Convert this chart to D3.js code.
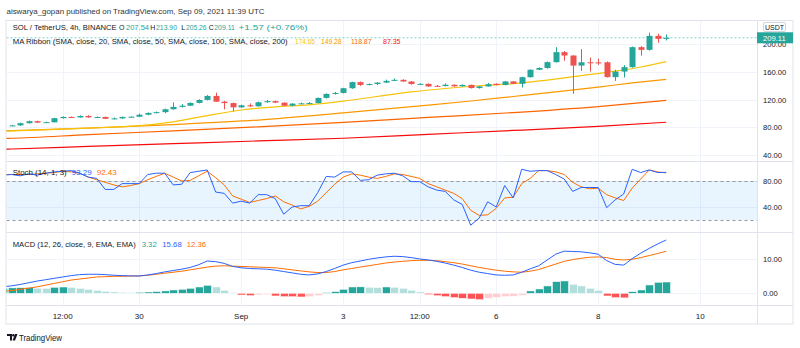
<!DOCTYPE html>
<html><head><meta charset="utf-8">
<script src="https://cdn.jsdelivr.net/npm/d3@7"></script>
<style>body{margin:0;background:#fff}svg{display:block}text{font-family:"Liberation Sans",Arial,sans-serif}</style>
</head><body><svg id="c" width="800" height="348"></svg>
<script>
// ---------- DATA ----------
const firstCandleTime = "2021-08-27T12:00:00Z"; // 4h candles
const candleHours = 4;
const opens = [82.5,82.8,86.0,88.9,86.8,87.3,93.2,95.0,94.3,96.4,94.4,95.0,92.3,92.9,95.0,95.3,98.2,100.8,101.9,106.1,109.5,111.2,115.2,119.5,125.3,117.0,115.0,108.8,111.8,110.3,116.2,117.8,115.6,111.2,114.2,114.6,115.0,122.4,128.2,129.6,136.4,145.2,141.1,142.4,144.5,147.0,148.5,146.1,142.4,142.7,139.8,139.5,141.4,139.2,141.2,136.6,139.0,142.8,141.1,146.2,142.8,152.3,163.0,165.6,174.0,188.4,183.5,169.0,173.8,173.6,173.8,152.4,160.4,166.8,195.6,191.7,211.9,207.54];
const highs = [83.5,86.8,89.8,89.6,88.3,93.8,95.8,95.6,97.2,97.4,95.8,95.4,94.2,95.6,96.1,99.8,101.6,102.8,107.0,116.0,113.5,116.0,120.5,126.5,130.0,118.2,115.8,112.6,114.5,117.0,119.6,118.6,116.0,114.8,115.8,116.6,123.0,129.0,131.0,137.0,145.8,146.0,143.3,145.2,148.8,150.5,149.2,146.8,143.6,143.2,141.0,143.3,141.8,141.8,141.5,139.6,144.0,143.4,146.8,146.6,153.0,163.6,166.5,175.0,195.6,190.0,184.0,192.7,180.6,179.0,175.0,163.0,169.8,196.5,197.0,216.5,215.0,213.90];
const lows = [81.8,82.0,85.5,86.3,86.2,87.0,92.6,93.8,94.0,93.9,94.0,91.9,91.6,92.4,94.6,94.8,97.5,100.2,100.3,105.5,108.5,110.5,114.5,118.8,116.5,106.0,103.0,108.2,109.2,109.8,115.5,115.0,110.6,110.2,113.5,114.0,114.6,121.5,127.2,128.8,135.5,139.8,140.6,140.8,143.8,146.6,145.5,141.5,141.8,138.2,138.6,139.0,138.6,138.8,136.0,135.8,138.8,140.5,140.5,142.2,137.4,151.8,162.5,164.5,173.4,176.0,128.3,161.4,160.4,170.0,151.8,147.0,151.8,166.0,183.5,190.5,202.0,205.26];
const closes = [82.8,86.0,88.9,86.8,87.5,93.2,95.0,94.3,96.4,94.4,94.9,92.3,92.9,95.0,95.3,98.2,100.8,101.9,106.1,109.5,111.2,115.2,119.5,125.3,117.0,115.0,108.8,111.8,110.3,116.2,117.8,115.6,111.2,114.2,114.6,115.0,122.4,128.2,129.6,136.4,145.2,141.1,142.4,144.5,147.0,148.5,146.1,142.4,142.7,139.0,139.5,141.4,139.2,141.2,136.6,139.0,142.2,141.1,146.2,142.8,152.3,163.0,165.6,174.0,188.4,183.5,169.0,173.8,173.4,173.3,152.4,160.4,166.8,195.6,191.7,211.9,207.54,209.11];

// MA ribbon: knots (candle index, value); index 0 = bar before first visible
const ma20Idx = [0,1,6,10,16,20,24,28,32,36,40,44,48,52,56,60,64,68,72,75,78];
const ma20Val = [74.5,74.8,77,79,82.5,88,97,105,109.5,112.5,117.8,124.5,131,136,140,143,148,154.5,161,167,174.65];
const ma50Idx = [0,1,10,20,30,40,50,55,60,65,70,74,78];
const ma50Val = [75,75.3,79,84,90.5,100.8,112,118,124.5,131,138,144,149.28];
const ma100Idx = [0,1,10,20,30,40,50,60,70,78];
const ma100Val = [64,64.3,69.5,75,80.8,87.2,94.3,101.3,110,118.87];
const ma200Idx = [0,1,10,20,30,40,50,60,70,78];
const ma200Val = [48.5,48.8,52.5,56.5,60.4,64.3,70,75.5,81.5,87.35];

// Stochastic (index 0..78)
const stochK = [89,90,88,91,89,92,94,95,96,92,86,84,67,67,76,76,76,90,92,92,74,75,93,95,97,63,61,46,49,46,59,59,53,29,40,42,42,62,87,86,94,94,81,82,89,91,92,88,79,79,71,66,64,51,44,12,23,48,40,73,54,98,95,96,96,90,83,64,70,70,70,39,51,60,98,93,97,93,93.29];
const stochD = [90,90,90,90,91,92,93,95,94,92,86,82,78,74,71,73,76,82,87,92,86,80,81,88,95,85,74,57,52,47,50,53,57,48,43,37,41,49,62,75,86,91,89,86,84,87,91,90,87,84,76,71,66,61,53,35,27,28,38,54,55,76,84,96,96,94,90,78,71,68,69,59,54,50,69,83,97,94,92.43];

// MACD (index 0..78)
const macdLine = [1.9,2.2,2.6,3.1,3.6,4.0,4.4,4.8,5.2,5.5,5.6,5.6,5.5,5.3,5.2,5.1,5.1,5.4,5.8,6.3,6.7,7.1,7.6,8.4,9.5,9.3,8.8,7.9,7.5,7.3,7.2,7.1,6.8,6.4,6.0,5.6,5.4,5.7,6.4,7.3,8.3,9.0,9.5,10.0,10.4,10.7,10.9,10.8,10.5,10.1,9.8,9.4,8.9,8.3,7.6,6.8,6.2,5.8,5.4,5.3,5.4,6.2,7.2,8.1,9.8,11.5,12.4,12.3,12.2,11.9,11.5,9.6,8.5,8.3,10.2,11.8,13.2,14.5,15.68];
const signalLine = [0.6,0.8,1.2,1.5,1.9,2.4,2.9,3.4,3.9,4.2,4.5,4.8,4.9,5.0,5.0,5.1,5.1,5.3,5.6,5.9,6.2,6.5,6.9,7.3,7.7,8.0,8.1,8.0,7.9,7.8,7.7,7.6,7.5,7.2,6.9,6.6,6.3,6.1,6.1,6.4,6.9,7.3,7.7,8.1,8.5,8.9,9.2,9.4,9.6,9.7,9.7,9.6,9.3,9.0,8.6,8.1,7.6,7.2,6.8,6.5,6.3,6.2,6.5,7.0,7.8,8.6,9.4,9.9,10.3,10.6,10.7,10.5,10.0,9.8,10.0,10.5,11.1,11.7,12.36];
const histogram = [1.5,1.60,1.65,1.70,1.50,1.45,1.75,1.85,1.75,1.47,1.18,0.88,0.60,0.40,0.29,0.20,0.28,0.38,0.50,0.70,0.98,1.18,1.47,1.86,2.35,1.86,0.88,0.20,-0.50,-0.69,-0.49,-0.39,-0.78,-0.98,-1.00,-1.08,-0.98,-0.69,0.20,0.49,1.18,1.86,1.90,1.76,1.70,1.86,1.76,1.47,0.88,0.39,-0.39,-0.69,-0.98,-1.27,-1.47,-1.67,-1.86,-1.47,-1.27,-0.98,-0.88,-0.59,0.69,1.27,2.16,3.43,3.63,2.65,2.16,1.47,0.88,-0.78,-1.27,-1.35,0.49,0.98,2.45,3.24,3.32];

const priceTicks = [40,80,120,160,200];
const stochTicks = [40,80];
const stochBands = [20,80];
const macdTicks = [0,10];
const timeTickDates = ["2021-08-28T12:00:00Z","2021-08-30T00:00:00Z","2021-09-01T00:00:00Z","2021-09-03T00:00:00Z","2021-09-04T12:00:00Z","2021-09-06T00:00:00Z","2021-09-08T00:00:00Z","2021-09-10T00:00:00Z"];
const timeTickLabels = ["12:00","30","Sep","3","12:00","6","8","10"];

// ---------- DRAW ----------
const svg = d3.select("#c");
const W = 800;
const L = 6.5, R = 757, AX = 793;
const pane = {main:[21,161], stoch:[161,232], macd:[232,305]};
const t0 = new Date(firstCandleTime).getTime();
const tOf = i => new Date(t0 + (i-1)*candleHours*3600e3);
const x = d3.scaleUtc().domain([tOf(1), tOf(78)]).range([11.7, 11.7 + 77*8.5]);
const yP = d3.scaleLinear().domain([40,200]).range([155.1,44.1]);
const yS = d3.scaleLinear().domain([0,100]).range([233,168]);
const yM = d3.scaleLinear().domain([0,10]).range([293.3,259.3]);

const UP="#26a69a", DN="#ef5350", GRID="#f0f3fa", SEP="#e0e3eb", TXT="#131722";

svg.append("rect").attr("width",W).attr("height",348).attr("fill","#fff");

// header
svg.append("text").attr("x",6.5).attr("y",13.5).attr("font-size",7.8).attr("fill","#333")
  .attr("textLength",258).attr("lengthAdjust","spacingAndGlyphs")
  .text("aiswarya_gopan published on TradingView.com, Sep 09, 2021 11:39 UTC");

// frame
svg.append("rect").attr("x",L-0.5).attr("y",20.5).attr("width",AX-L+0.5).attr("height",303.5)
  .attr("fill","none").attr("stroke",SEP);

svg.append("defs").append("clipPath").attr("id","clip")
  .append("rect").attr("x",L).attr("y",21).attr("width",R-L).attr("height",284);

const g = svg.append("g").attr("clip-path","url(#clip)");

// vertical grid
const tickTimes = timeTickDates.map(d=>new Date(d));
g.selectAll(".vg").data(tickTimes).join("line")
  .attr("x1",d=>Math.round(x(d))+0.5).attr("x2",d=>Math.round(x(d))+0.5)
  .attr("y1",21).attr("y2",305).attr("stroke",GRID);
// horizontal grids
g.selectAll(".hgp").data(priceTicks).join("line")
  .attr("x1",L).attr("x2",R).attr("y1",d=>Math.round(yP(d))+0.5).attr("y2",d=>Math.round(yP(d))+0.5).attr("stroke",GRID);
g.selectAll(".hgs").data(stochTicks).join("line")
  .attr("x1",L).attr("x2",R).attr("y1",d=>Math.round(yS(d))+0.5).attr("y2",d=>Math.round(yS(d))+0.5).attr("stroke",GRID);
g.selectAll(".hgm").data(macdTicks).join("line")
  .attr("x1",L).attr("x2",R).attr("y1",d=>Math.round(yM(d))+0.5).attr("y2",d=>Math.round(yM(d))+0.5).attr("stroke",GRID);

// pane separators
[pane.main[1], pane.stoch[1], pane.macd[1]].forEach(yy=>{
  svg.append("line").attr("x1",L).attr("x2",AX).attr("y1",yy+0.5).attr("y2",yy+0.5).attr("stroke",SEP);
});
svg.append("line").attr("x1",R+0.5).attr("x2",R+0.5).attr("y1",21).attr("y2",324).attr("stroke",SEP);

// MA ribbon lines
const maLine = (idx,val,color)=>{
  const pts = idx.map((k,j)=>[x(tOf(k)), yP(val[j])]);
  g.append("path").attr("d", d3.line().curve(d3.curveMonotoneX)(pts))
   .attr("fill","none").attr("stroke",color).attr("stroke-width",1.2);
};
maLine(ma200Idx,ma200Val,"#f60c0c");
maLine(ma100Idx,ma100Val,"#fb6500");
maLine(ma50Idx,ma50Val,"#fb9800");
maLine(ma20Idx,ma20Val,"#f6c309");

// last price line
const lastY = yP(closes[closes.length-1]);
g.append("line").attr("x1",L).attr("x2",R).attr("y1",lastY).attr("y2",lastY)
  .attr("stroke",UP).attr("stroke-opacity",0.55).attr("stroke-dasharray","2,2");

// candles
const candles = closes.map((c,k)=>({i:k+1,o:opens[k],h:highs[k],l:lows[k],c}));
const cg = g.append("g");
cg.selectAll(".wick").data(candles).join("line")
  .attr("x1",d=>Math.round(x(tOf(d.i)))+0.5).attr("x2",d=>Math.round(x(tOf(d.i)))+0.5)
  .attr("y1",d=>yP(d.h)).attr("y2",d=>yP(d.l))
  .attr("stroke",d=>d.c>=d.o?UP:DN);
cg.selectAll(".body").data(candles).join("rect")
  .attr("x",d=>Math.round(x(tOf(d.i)))-2.5).attr("width",6)
  .attr("y",d=>yP(Math.max(d.o,d.c))).attr("height",d=>Math.max(1,Math.abs(yP(d.o)-yP(d.c))))
  .attr("fill",d=>d.c>=d.o?UP:DN);

// stoch band
g.append("rect").attr("x",L).attr("width",R-L).attr("y",yS(stochBands[1])).attr("height",yS(stochBands[0])-yS(stochBands[1]))
  .attr("fill","rgba(33,150,243,0.1)");
g.selectAll(".band").data(stochBands).join("line")
  .attr("x1",L).attr("x2",R).attr("y1",d=>Math.round(yS(d))+0.5).attr("y2",d=>Math.round(yS(d))+0.5)
  .attr("stroke","#9598a1").attr("stroke-dasharray","3,3");
const idxLine = (arr,scale,color)=>{
  g.append("path").attr("d", d3.line().x((v,k)=>x(tOf(k))).y(v=>scale(v))(arr))
   .attr("fill","none").attr("stroke",color).attr("stroke-width",1);
};
idxLine(stochD,yS,"#ff6d00");
idxLine(stochK,yS,"#2962ff");

// MACD histogram
const hcol = (v,k)=>{
  const p = k>0?histogram[k-1]:v;
  if (v>=0) return v>=p?"#26a69a":"#b2dfdb";
  return v>p?"#ffcdd2":"#ff5252";
};
g.selectAll(".hist").data(histogram).join("rect")
  .attr("x",(v,k)=>Math.round(x(tOf(k)))-3.5).attr("width",8)
  .attr("y",v=>Math.min(yM(v),yM(0))).attr("height",v=>Math.abs(yM(v)-yM(0)))
  .attr("fill",(v,k)=>hcol(v,k)).attr("stroke","#fff").attr("stroke-width",0.5);
idxLine(signalLine,yM,"#ff6d00");
idxLine(macdLine,yM,"#2962ff");

// right axis labels
const axLab = (vals,scale)=>{
  svg.selectAll(null).data(vals).join("text")
   .attr("x",763).attr("y",d=>scale(d)+3).attr("font-size",7.6).attr("fill",TXT)
   .text(d=>d.toFixed(2));
};
axLab(priceTicks,yP); axLab(stochTicks,yS); axLab(macdTicks,yM);

// last price label & USDT
svg.append("rect").attr("x",R).attr("y",lastY-5.5).attr("width",AX-R).attr("height",11).attr("fill",UP);
svg.append("text").attr("x",763).attr("y",lastY+3).attr("font-size",7.6).attr("fill","#fff").text(closes[closes.length-1].toFixed(2));
svg.append("rect").attr("x",763.5).attr("y",22.5).attr("width",22).attr("height",9).attr("rx",1.5).attr("fill","#fff").attr("stroke","#d1d4dc");
svg.append("text").attr("x",774.5).attr("y",29.6).attr("font-size",7).attr("text-anchor","middle").attr("fill",TXT).text("USDT");

// time axis
svg.selectAll(".tl").data(tickTimes).join("text")
  .attr("x",d=>x(d)).attr("y",318.5).attr("font-size",8).attr("text-anchor","middle").attr("fill",TXT)
  .text((d,k)=>timeTickLabels[k]);

// legends
const FS = 7.8;
const txt = (s,xx,yy,col,len)=>{
  const t = svg.append("text").attr("x",xx).attr("y",yy).attr("font-size",FS).attr("fill",col).text(s);
  if (len) t.attr("textLength",len).attr("lengthAdjust","spacingAndGlyphs");
  return t;
};
txt("SOL / TetherUS, 4h, BINANCE",12.7,29.5,TXT,104);
txt("O",119,29.5,TXT,5.5); txt(opens[77].toFixed(2),126,29.5,UP,23);
txt("H",150.3,29.5,TXT,5); txt(highs[77].toFixed(2),156,29.5,UP,21);
txt("L",181.3,29.5,TXT,4); txt(lows[77].toFixed(2),186,29.5,UP,20.5);
txt("C",208.7,29.5,TXT,5); txt(closes[77].toFixed(2),214.3,29.5,UP,20.5);
txt("+1.57 (+0.76%)",238.5,29.5,UP,69);
txt("MA Ribbon (SMA, close, 20, SMA, close, 50, SMA, close, 100, SMA, close, 200)",12.7,43.5,TXT,275);
txt(ma20Val[ma20Val.length-1].toFixed(2),295,43.5,"#f6c309",20);
txt(ma50Val[ma50Val.length-1].toFixed(2),321,43.5,"#fb9800",20.5);
txt(ma100Val[ma100Val.length-1].toFixed(2),351,43.5,"#fb6500",20.5);
txt(ma200Val[ma200Val.length-1].toFixed(2),383,43.5,"#f60c0c",17.5);
txt("Stoch (14, 1, 3)",12.7,175.3,TXT,54);
txt(stochK[78].toFixed(2),71.7,175.3,"#2962ff",20);
txt(stochD[78].toFixed(2),96.7,175.3,"#ff6d00",20);
txt("MACD (12, 26, close, 9, EMA, EMA)",12.7,247.3,TXT,123);
txt(histogram[78].toFixed(2),141.7,247.3,UP,15);
txt(macdLine[78].toFixed(2),162.3,247.3,"#2962ff",19.4);
txt(signalLine[78].toFixed(2),186.7,247.3,"#ff6d00",19.3);

// TradingView logo
const lg = svg.append("g").attr("transform","translate(7,334)").attr("fill","#131722");
lg.append("path").attr("d","M0 0 H5 V6.5 H3 V2 H0 Z");
lg.append("circle").attr("cx",6.3).attr("cy",1.2).attr("r",1.2);
lg.append("path").attr("d","M8 0 H10.5 L8 6.5 H5.6 Z");
svg.append("text").attr("x",19).attr("y",341).attr("font-size",8.5).attr("fill","#131722")
  .attr("textLength",43).attr("lengthAdjust","spacingAndGlyphs").text("TradingView");
</script></body></html>
